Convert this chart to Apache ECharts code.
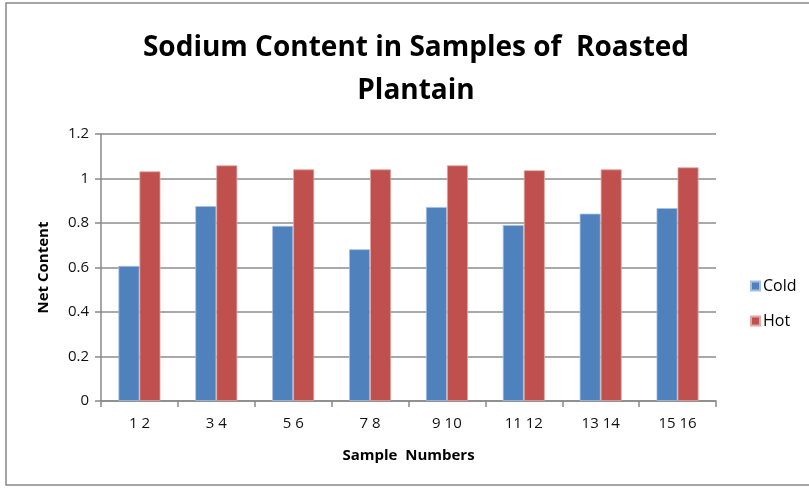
<!DOCTYPE html>
<html><head><meta charset="utf-8">
<script src="https://cdn.jsdelivr.net/npm/echarts@6/dist/echarts.min.js"></script>
<style>html,body{margin:0;padding:0;background:#fff}#c{width:809px;height:489px}</style>
</head><body><div id="c"></div>
<script>
const categories = ['1 2','3 4','5 6','7 8','9 10','11 12','13 14','15 16'];
const coldValues = [0.607, 0.876, 0.787, 0.682, 0.872, 0.791, 0.842, 0.867];
const hotValues  = [1.032, 1.059, 1.041, 1.041, 1.059, 1.037, 1.041, 1.050];
const yTicks = [0, 0.2, 0.4, 0.6, 0.8, 1, 1.2];

const chart = echarts.init(document.getElementById('c'));
const FONT = '"Open Sans", "Liberation Sans", sans-serif';
chart.setOption({
  animation: false,
  backgroundColor: '#fff',
  textStyle: {fontFamily: FONT},
  graphic: [{type:'rect', shape:{x:6, y:3, width:820, height:482}, style:{fill:'none', stroke:'#888', lineWidth:1.5}, silent:true}],
  title: {
    text: 'Sodium Content in Samples of  Roasted\nPlantain',
    left: 411, textAlign: 'center', top: 22,
    textStyle: {fontFamily: FONT, fontSize: 28, fontWeight: 'bold', color: '#000', lineHeight: 43}
  },
  legend: {
    orient: 'vertical', left: 745, top: 273,
    itemWidth: 9, itemHeight: 9, itemGap: 19,
    icon: 'rect',
    textStyle: {fontFamily: FONT, fontSize: 16, color: '#000', padding:[0,0,0,-2]},
    data: ['Cold','Hot']
  },
  grid: {left: 101, right: 93, top: 134, bottom: 88, containLabel: false},
  xAxis: {
    type: 'category', data: categories,
    name: 'Sample  Numbers', nameLocation: 'middle', nameGap: 47,
    nameTextStyle: {fontFamily: FONT, fontSize: 15, fontWeight: 'bold', color: '#000'},
    axisLine: {lineStyle: {color: '#888', width: 1.5}},
    axisTick: {show: true, alignWithLabel: false, length: 6, lineStyle: {color: '#888', width: 1.5}},
    axisLabel: {fontFamily: FONT, fontSize: 15, color: '#111', margin: 15}
  },
  yAxis: {
    type: 'value', min: 0, max: 1.2, interval: 0.2,
    name: 'Net Content', nameLocation: 'middle', nameGap: 50,
    nameTextStyle: {fontFamily: FONT, fontSize: 15, fontWeight: 'bold', color: '#000'},
    axisLine: {show: true, lineStyle: {color: '#888', width: 1.5}},
    axisTick: {show: true, length: 6, inside: false, lineStyle: {color: '#888', width: 1.5}},
    axisLabel: {fontFamily: FONT, fontSize: 15, color: '#111', margin: 12,
      formatter: v => { const t = yTicks.find(x => Math.abs(x - v) < 1e-9); return t === undefined ? '' : String(t); }},
    splitLine: {lineStyle: {color: '#8c8c8c', width: 1.5}}
  },
  series: [
    {name: 'Cold', type: 'bar', data: coldValues, barWidth: 21, barGap: '0%',
     itemStyle: {color: '#4f81bd', borderColor: '#a7c0de', borderWidth: 0.8}},
    {name: 'Hot', type: 'bar', data: hotValues, barWidth: 21,
     itemStyle: {color: '#c0504d', borderColor: '#e0a8a6', borderWidth: 0.8}}
  ]
});
</script></body></html>
